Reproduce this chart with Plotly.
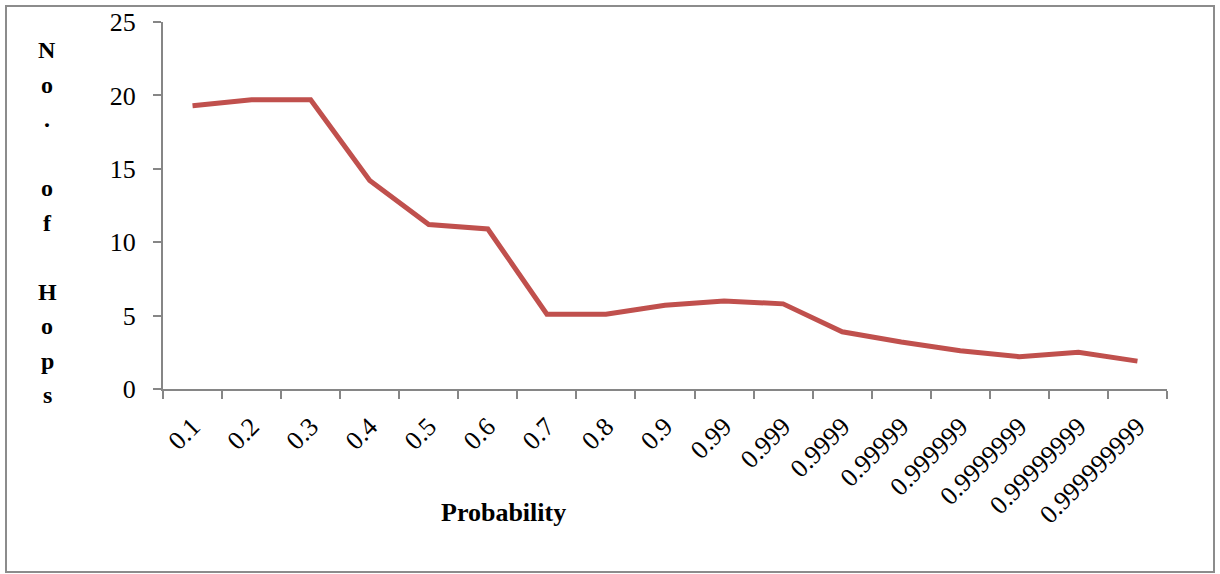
import plotly.graph_objects as go

# Hop counts per probability setting
probability = ["0.1", "0.2", "0.3", "0.4", "0.5", "0.6", "0.7", "0.8", "0.9",
               "0.99", "0.999", "0.9999", "0.99999", "0.999999", "0.9999999",
               "0.99999999", "0.999999999"]
hops = [19.3, 19.7, 19.7, 14.2, 11.2, 10.9, 5.1, 5.1, 5.7,
        6.0, 5.8, 3.9, 3.2, 2.6, 2.2, 2.5, 1.9]
y_ticks = [0, 5, 10, 15, 20, 25]
y_title = "No. of Hops"
x_title = "Probability"

W, H = 1220, 574
L, R, T, B = 163, 53, 22, 185
plot_w = W - L - R
plot_h = H - T - B

axis_grey = "#868686"
serif = "Liberation Serif, Times New Roman, serif"


def px_to_paper_x(px):
    return (px - L) / plot_w


def px_to_paper_y(py):
    return (H - B - py) / plot_h


fig = go.Figure()
fig.add_trace(go.Scatter(
    x=probability, y=hops, mode="lines",
    line=dict(color="#C0504D", width=5),
    hoverinfo="x+y",
))

annotations = []
# Vertical, one-character-per-line y-axis title (spaces leave an empty line)
line_step = 34.5
top_center = 50
for i, ch in enumerate(y_title):
    if ch == " ":
        continue
    annotations.append(dict(
        x=px_to_paper_x(47), y=px_to_paper_y(top_center + i * line_step),
        xref="paper", yref="paper", text=ch, showarrow=False,
        xanchor="center", yanchor="middle",
        font=dict(family=serif, size=24, color="black", weight="bold"),
    ))

annotations.append(dict(
    x=px_to_paper_x(503), y=px_to_paper_y(512),
    xref="paper", yref="paper", text=x_title, showarrow=False,
    xanchor="center", yanchor="middle",
    font=dict(family=serif, size=26, color="black", weight="bold"),
))

fig.update_layout(
    width=W, height=H,
    margin=dict(l=L, r=R, t=T, b=B, autoexpand=False),
    paper_bgcolor="white", plot_bgcolor="white",
    showlegend=False,
    annotations=annotations,
    shapes=[dict(
        type="rect", xref="paper", yref="paper",
        x0=px_to_paper_x(6), x1=px_to_paper_x(1214),
        y0=px_to_paper_y(572), y1=px_to_paper_y(6),
        line=dict(color="#8c8c8c", width=2), fillcolor="rgba(0,0,0,0)",
        layer="below",
    )],
    xaxis=dict(
        type="category", categoryorder="array", categoryarray=probability,
        range=[-0.5, len(probability) - 0.5], automargin=False,
        showline=True, linecolor=axis_grey, linewidth=2,
        showgrid=False, zeroline=False,
        ticks="outside", tickson="boundaries", ticklen=8,
        tickcolor=axis_grey, tickwidth=2,
        tickangle=-45, ticklabelstandoff=10,
        tickfont=dict(family=serif, size=26, color="black"),
    ),
    yaxis=dict(
        range=[0, 25], tickvals=y_ticks, automargin=False,
        showline=True, linecolor=axis_grey, linewidth=2,
        showgrid=False, zeroline=False,
        ticks="outside", ticklen=8, tickcolor=axis_grey, tickwidth=2,
        ticklabelstandoff=12,
        tickfont=dict(family=serif, size=26, color="black"),
    ),
)

fig.write_html("out.html")
